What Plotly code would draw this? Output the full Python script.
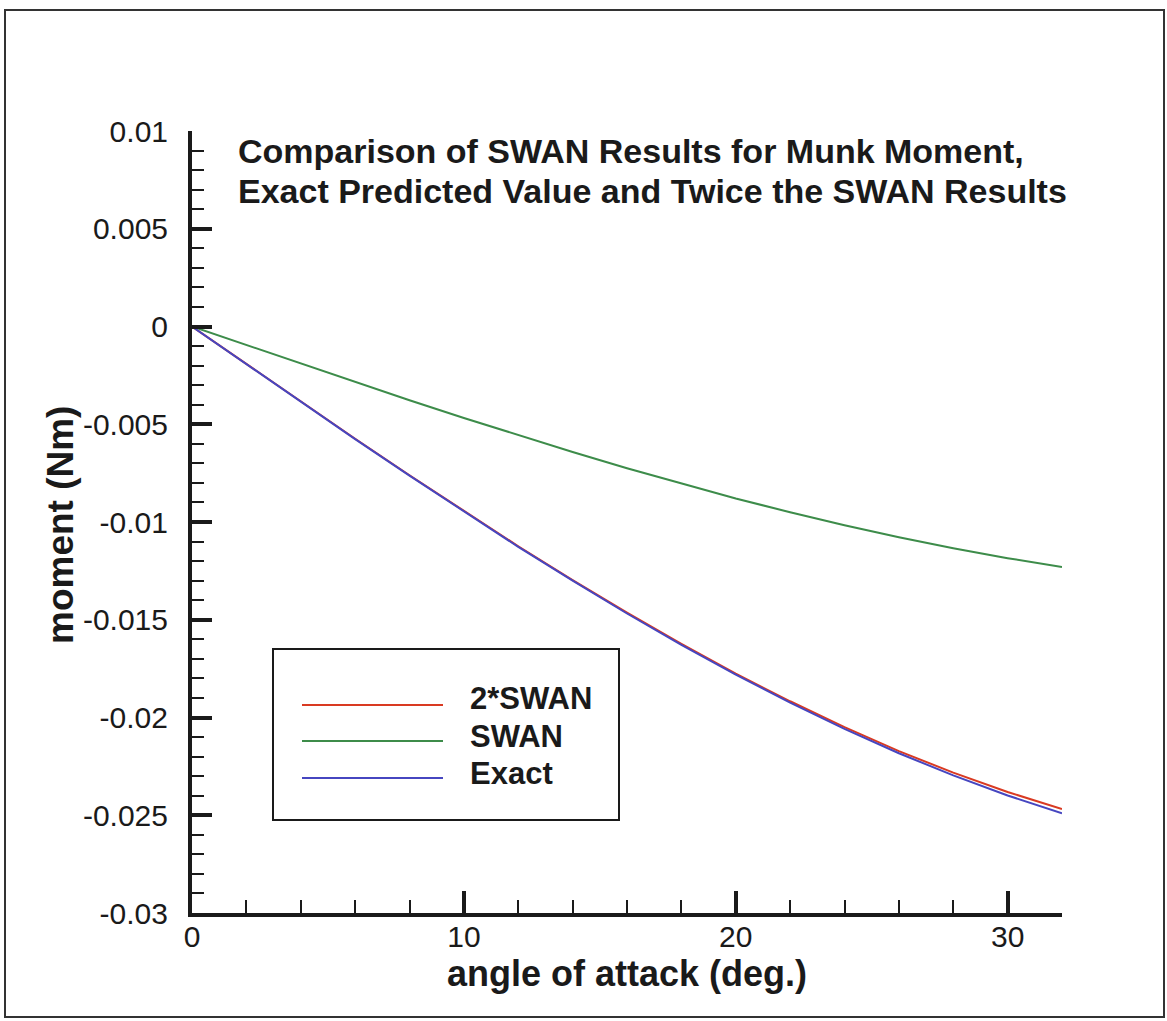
import plotly.graph_objects as go

# ---- data ----
angle = [0, 2, 4, 6, 8, 10, 12, 14, 16, 18, 20, 22, 24, 26, 28, 30, 32]
exact = [0, -0.00193, -0.00386, -0.00576, -0.00763, -0.00947, -0.01127, -0.01300,
         -0.01468, -0.01628, -0.01781, -0.01924, -0.02058, -0.02183, -0.02296,
         -0.02399, -0.02490]
swan = [0, -0.00095, -0.00190, -0.00285, -0.00377, -0.00468, -0.00557, -0.00642,
        -0.00725, -0.00804, -0.00880, -0.00950, -0.01017, -0.01078, -0.01134,
        -0.01185, -0.01230]
twice_swan = [0, -0.00192, -0.00385, -0.00574, -0.00761, -0.00944, -0.01124, -0.01297,
              -0.01464, -0.01624, -0.01776, -0.01917, -0.02049, -0.02172, -0.02282,
              -0.02381, -0.02468]

x_tickvals = [0, 10, 20, 30]
x_ticktext = ["0", "10", "20", "30"]
y_tickvals = [0.01, 0.005, 0, -0.005, -0.01, -0.015, -0.02, -0.025, -0.03]
y_ticktext = ["0.01", "0.005", "0", "-0.005", "-0.01", "-0.015", "-0.02", "-0.025", "-0.03"]

series_names = ["2*SWAN", "SWAN", "Exact"]
series_colors = ["#d93a22", "#3d8c4a", "#4646c0"]

title_lines = ["Comparison of SWAN Results for Munk Moment,",
               "Exact Predicted Value and Twice the SWAN Results"]

FONT = "Liberation Sans, Arial, sans-serif"

fig = go.Figure()
for name, ys, col in zip(series_names, [twice_swan, swan, exact], series_colors):
    fig.add_trace(go.Scatter(x=angle, y=ys, mode="lines", name=name,
                             line=dict(color=col, width=2), showlegend=False))

fig.update_layout(
    width=1167, height=1021,
    margin=dict(l=192, r=105, t=131, b=108),
    paper_bgcolor="white", plot_bgcolor="white",
    font=dict(family=FONT, color="#1a1a1a"),
)

fig.update_xaxes(
    range=[0, 32], showgrid=False, zeroline=False,
    showline=True, linecolor="#1a1a1a", linewidth=4,
    tickmode="array", tickvals=x_tickvals, ticktext=x_ticktext,
    ticks="inside", ticklen=22, tickwidth=4, tickcolor="#1a1a1a",
    tickfont=dict(size=30, family=FONT, color="#1a1a1a"),
    ticklabelstandoff=-6,
    minor=dict(dtick=2, tick0=0, ticks="inside", ticklen=13, tickwidth=2, tickcolor="#1a1a1a"),
    title=dict(text="<b>angle of attack (deg.)</b>", font=dict(size=36, family=FONT, color="#1a1a1a"),
               standoff=0),
)
fig.update_yaxes(
    range=[-0.03, 0.01], showgrid=False, zeroline=False,
    showline=True, linecolor="#1a1a1a", linewidth=4,
    tickmode="array", tickvals=y_tickvals, ticktext=y_ticktext,
    ticks="inside", ticklen=20, tickwidth=4, tickcolor="#1a1a1a",
    tickfont=dict(size=30, family=FONT, color="#1a1a1a"),
    ticklabelstandoff=14,
    minor=dict(dtick=0.001, tick0=0, ticks="inside", ticklen=12, tickwidth=2, tickcolor="#1a1a1a"),
)

# y-axis title placed explicitly
fig.add_annotation(text="<b>moment (Nm)</b>", xref="paper", yref="paper",
                   x=(60 - 192) / 870, y=(913 - 525) / 782,
                   xanchor="center", yanchor="middle", textangle=-90, showarrow=False,
                   font=dict(size=37, family=FONT, color="#1a1a1a"))

# outer frame
fig.add_shape(type="rect", xref="paper", yref="paper",
              x0=(5 - 192) / 870, x1=(1164 - 192) / 870,
              y0=(913 - 1017) / 782, y1=(913 - 10) / 782,
              line=dict(color="#333333", width=2), layer="below")

# title
for t, py in zip(title_lines, [151, 191]):
    fig.add_annotation(text="<b>" + t + "</b>", xref="paper", yref="paper",
                       x=(236 - 192) / 870, y=(913 - py) / 782,
                       xanchor="left", yanchor="middle", showarrow=False,
                       font=dict(size=34, family=FONT, color="#1a1a1a"))

# legend box
fig.add_shape(type="rect", xref="paper", yref="paper",
              x0=(273 - 192) / 870, x1=(619 - 192) / 870,
              y0=(913 - 820) / 782, y1=(913 - 649) / 782,
              line=dict(color="#1a1a1a", width=2), fillcolor="white")
for name, col, ly, ty in zip(series_names, series_colors, [705, 741, 778], [698, 736, 773]):
    fig.add_shape(type="line", xref="paper", yref="paper",
                  x0=(302 - 192) / 870, x1=(443 - 192) / 870,
                  y0=(913 - ly) / 782, y1=(913 - ly) / 782,
                  line=dict(color=col, width=2))
    fig.add_annotation(text="<b>" + name + "</b>", xref="paper", yref="paper",
                       x=(468 - 192) / 870, y=(913 - ty) / 782,
                       xanchor="left", yanchor="middle", showarrow=False,
                       font=dict(size=31, family=FONT, color="#1a1a1a"))

fig.write_html("out.html")
